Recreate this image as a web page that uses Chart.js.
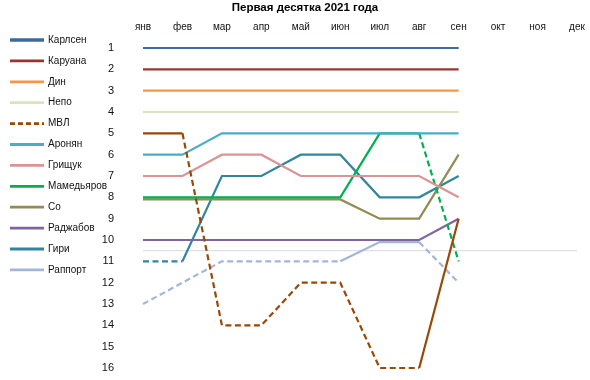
<!DOCTYPE html>
<html><head><meta charset="utf-8">
<script src="https://cdn.jsdelivr.net/npm/chart.js@4"></script>
<style>html,body{margin:0;padding:0;background:#fff}canvas{display:block}</style>
</head><body>
<canvas id="c" width="590" height="380"></canvas>
<script>
const months = ['янв','фев','мар','апр','май','июн','июл','авг','сен','окт','ноя','дек'];
const rankTicks = [1,2,3,4,5,6,7,8,9,10,11,12,13,14,15,16];
const titleText = 'Первая десятка 2021 года';
const players = ['Карлсен','Каруана','Дин','Непо','МВЛ','Аронян','Грищук','Мамедьяров','Со','Раджабов','Гири','Раппорт'];
const carlsen   = [1,1,1,1,1,1,1,1,1];
const caruana   = [2,2,2,2,2,2,2,2,2];
const ding      = [3,3,3,3,3,3,3,3,3];
const nepo      = [4,4,4,4,4,4,4,4,4];
const mvl       = [5,5,14,14,12,12,16,16,9];
const aronian   = [6,6,5,5,5,5,5,5,5];
const grischuk  = [7,7,6,6,7,7,7,7,8];
const mamedyarov= [8,8,8,8,8,8,5,5,11];
const so        = [8.1,8.1,8.1,8.1,8.1,8.1,9,9,6];
const radjabov  = [10,10,10,10,10,10,10,10,9];
const giri      = [11,11,7,7,6,6,8,8,7];
const rapport   = [13,12,11,11,11,11,10.1,10.1,12];
const cutoff    = [10.5,10.5,10.5,10.5,10.5,10.5,10.5,10.5,10.5,10.5,10.5,10.5];

const series = [carlsen,caruana,ding,nepo,mvl,aronian,grischuk,mamedyarov,so,radjabov,giri,rapport];
const colors = ['#3E68A0','#953735','#F79646','#D7E4BD','#984807','#4BACC6','#D99594','#00B050','#948A54','#8064A2','#31859C','#A3B6D9'];
const legendDashed = [false,false,false,false,true,false,false,false,false,false,false,false];
const DASH = [6,3.5];

const datasets = series.map((d,i)=>({
  label: players[i],
  data: d,
  borderColor: colors[i],
  backgroundColor: colors[i],
  borderWidth: 2.2,
  pointRadius: 0,
  pointHoverRadius: 0,
  tension: 0,
  fill: false,
  clip: false,
  legendDash: legendDashed[i],
  segment: { borderDash: ctx => ctx.p1.parsed.y > 10.5 ? DASH : undefined }
}));
datasets.push({
  label: '',
  data: cutoff,
  borderColor: '#D9D9D9',
  borderWidth: 1,
  pointRadius: 0,
  tension: 0,
  fill: false,
  clip: false
});

const customDraw = {
  id: 'customDraw',
  afterDraw(chart) {
    const ctx = chart.ctx;
    ctx.save();
    ctx.fillStyle = '#000';
    ctx.font = 'bold 11.5px "Liberation Sans", Arial, sans-serif';
    ctx.textAlign = 'center';
    ctx.textBaseline = 'middle';
    ctx.fillText(titleText, 305, 8);
    ctx.font = '10px "Liberation Sans", Arial, sans-serif';
    ctx.textAlign = 'left';
    chart.data.datasets.forEach((ds, i) => {
      if (!ds.label) return;
      const y = 40 + i * 20.9;
      ctx.beginPath();
      ctx.strokeStyle = ds.borderColor;
      ctx.lineWidth = i === 0 ? 3.5 : 2.8;
      ctx.setLineDash(ds.legendDash ? [5,3] : []);
      ctx.moveTo(10, y);
      ctx.lineTo(44, y);
      ctx.stroke();
      ctx.setLineDash([]);
      ctx.fillStyle = '#111';
      ctx.fillText(ds.label, 48, y);
    });
    ctx.restore();
  }
};

new Chart(document.getElementById('c'), {
  type: 'line',
  data: { labels: months, datasets },
  plugins: [customDraw],
  options: {
    responsive: false,
    devicePixelRatio: 1,
    animation: false,
    layout: { padding: { top: 20, left: 0, right: 13, bottom: 12 } },
    plugins: { legend: { display: false }, title: { display: false }, tooltip: { enabled: false } },
    scales: {
      x: {
        type: 'category',
        position: 'top',
        offset: false,
        grid: { display: false, drawTicks: false },
        border: { display: false },
        ticks: { autoSkip: false, maxRotation: 0, padding: 15, color: '#111',
                 font: { family: '"Liberation Sans", Arial, sans-serif', size: 10 } },
        afterFit: s => { s.height = 28; s.paddingLeft = 0; s.paddingRight = 0; }
      },
      y: {
        reverse: true,
        min: 1, max: 16,
        afterBuildTicks: s => { s.ticks = rankTicks.map(v => ({ value: v })); },
        grid: { display: false, drawTicks: false },
        border: { display: false },
        ticks: { padding: 29, color: '#111',
                 font: { family: '"Liberation Sans", Arial, sans-serif', size: 11 } },
        afterFit: s => { s.width = 143; s.paddingTop = 0; s.paddingBottom = 0; }
      }
    }
  }
});
</script>
</body></html>
